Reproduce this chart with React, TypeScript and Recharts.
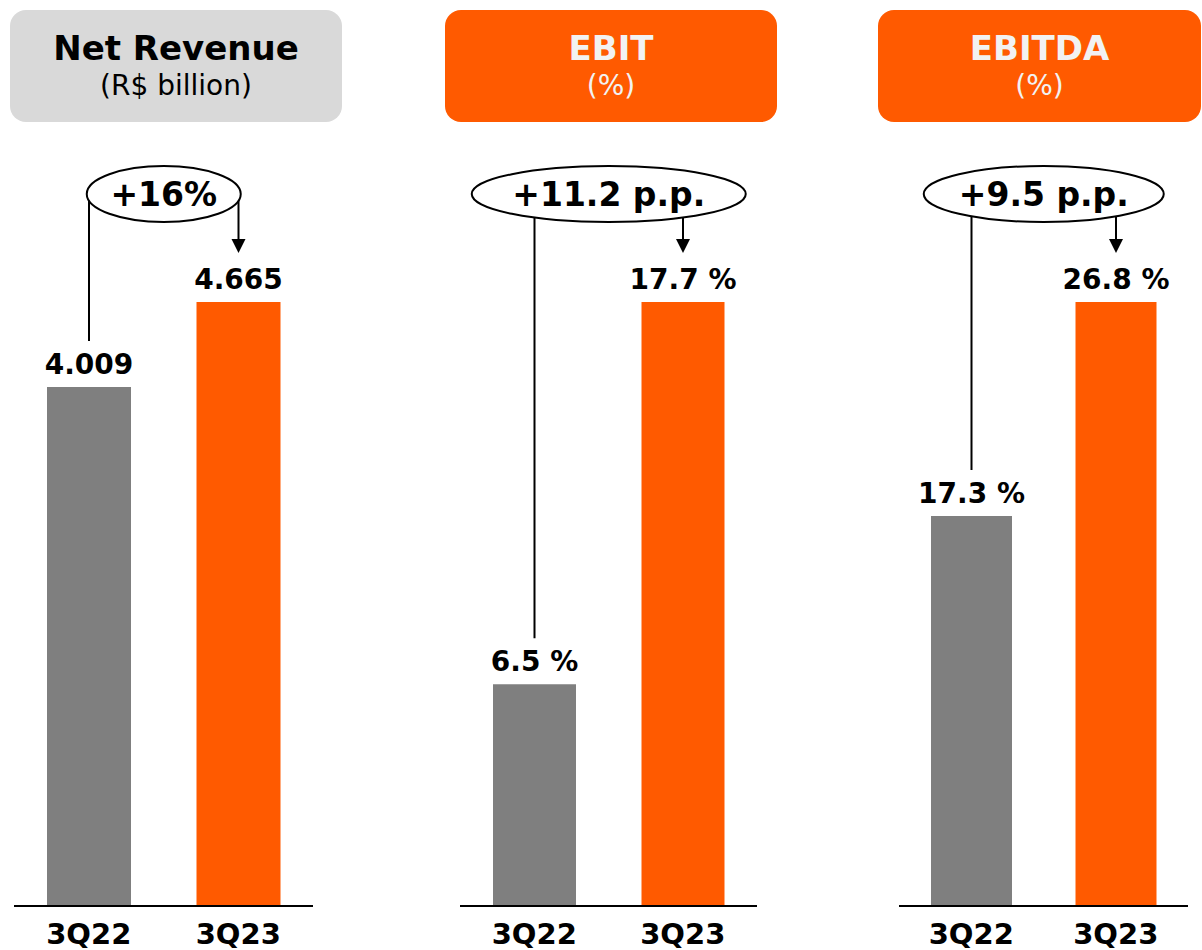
import React from 'react'
import { BarChart, Bar, XAxis, YAxis, Cell, LabelList } from 'recharts'

const CATEGORIES = ['3Q22', '3Q23']
const REVENUE = [4.009, 4.665]
const EBIT = [6.5, 17.7]
const EBITDA = [17.3, 26.8]
const REVENUE_LABELS = ['4.009', '4.665']
const EBIT_LABELS = ['6.5 %', '17.7 %']
const EBITDA_LABELS = ['17.3 %', '26.8 %']
const TITLES = ['Net Revenue', 'EBIT', 'EBITDA']
const SUBTITLES = ['(R$ billion)', '(%)', '(%)']
const DELTAS = ['+16%', '+11.2 p.p.', '+9.5 p.p.']

const GRAY = '#7f7f7f'
const ORANGE = '#ff5a00'
const HEADER_GRAY = '#d9d9d9'
const FONT = '"DejaVu Sans", Verdana, sans-serif'
const BAR_COLORS = [GRAY, ORANGE]

const CHART_H = 950
const PLOT_TOP = 302
const AXIS_H = 44
const ELLIPSE_CY = 194

type Panel = {
  values: number[]
  labels: string[]
  title: string
  subtitle: string
  delta: string
  plotLeft: number
  plotWidth: number
  barSize: number
  rx: number
  header: { left: number; width: number; bg: string; color: string }
}

const PANELS: Panel[] = [
  {
    values: REVENUE, labels: REVENUE_LABELS, title: TITLES[0], subtitle: SUBTITLES[0], delta: DELTAS[0],
    plotLeft: 14, plotWidth: 299, barSize: 84, rx: 77,
    header: { left: 10, width: 332, bg: HEADER_GRAY, color: '#000' },
  },
  {
    values: EBIT, labels: EBIT_LABELS, title: TITLES[1], subtitle: SUBTITLES[1], delta: DELTAS[1],
    plotLeft: 460, plotWidth: 297, barSize: 83, rx: 137,
    header: { left: 445, width: 332, bg: ORANGE, color: '#f2f2f2' },
  },
  {
    values: EBITDA, labels: EBITDA_LABELS, title: TITLES[2], subtitle: SUBTITLES[2], delta: DELTAS[2],
    plotLeft: 899, plotWidth: 289, barSize: 81, rx: 120,
    header: { left: 878, width: 323, bg: ORANGE, color: '#f2f2f2' },
  },
]

// labels double as the hook for the change callout: bar 0 gets the
// connector, bar 1 gets the arrow + ellipse (drawn last so it covers line ends)
function makeLabel(panel: Panel) {
  const step = panel.plotWidth / CATEGORIES.length
  return (props: any) => {
    const vb = props.viewBox ?? props
    const x = vb.x ?? props.x
    const y = vb.y ?? props.y
    const w = vb.width ?? props.width
    const cx = x + w / 2
    const text = (
      <text x={cx} y={y - 13} textAnchor="middle" fontFamily={FONT} fontWeight="bold" fontSize={28} fill="#000">
        {props.value}
      </text>
    )
    if (props.index === 0) {
      return (
        <g>
          <line x1={cx} y1={ELLIPSE_CY} x2={cx} y2={y - 46} stroke="#000" strokeWidth={2} />
          {text}
        </g>
      )
    }
    const tip = y - 49
    const ex = cx - step / 2
    return (
      <g>
        <line x1={cx} y1={ELLIPSE_CY} x2={cx} y2={tip - 12} stroke="#000" strokeWidth={2} />
        <path d={`M${cx - 7},${tip - 14} L${cx + 7},${tip - 14} L${cx},${tip} Z`} fill="#000" />
        <ellipse cx={ex} cy={ELLIPSE_CY} rx={panel.rx} ry={28} fill="#fff" stroke="#000" strokeWidth={2} />
        <text x={ex} y={ELLIPSE_CY + 12} textAnchor="middle" fontFamily={FONT} fontWeight="bold" fontSize={33} fill="#000">
          {panel.delta}
        </text>
        {text}
      </g>
    )
  }
}

function CategoryTick({ x, y, payload }: any) {
  return (
    <text x={x} y={y + 30} textAnchor="middle" fontFamily={FONT} fontWeight="bold" fontSize={29} fill="#000">
      {payload.value}
    </text>
  )
}

function PanelChart({ panel }: { panel: Panel }) {
  const data = CATEGORIES.map((c, i) => ({ name: c, value: panel.values[i], label: panel.labels[i] }))
  const max = Math.max(...panel.values)
  const padL = 10
  const padR = 10
  return (
    <>
      <div
        style={{
          position: 'absolute', left: panel.header.left, top: 10, width: panel.header.width, height: 112,
          background: panel.header.bg, borderRadius: 16, color: panel.header.color, textAlign: 'center',
          fontFamily: FONT,
        }}
      >
        <div style={{ fontWeight: 'bold', fontSize: 34, lineHeight: '40px', marginTop: 18 }}>{panel.title}</div>
        <div style={{ fontSize: 28, lineHeight: '34px', marginTop: 1 }}>{panel.subtitle}</div>
      </div>
      <div style={{ position: 'absolute', left: panel.plotLeft - padL, top: 0 }}>
        <BarChart
          width={panel.plotWidth + padL + padR}
          height={CHART_H}
          data={data}
          margin={{ top: PLOT_TOP, right: padR, bottom: 0, left: padL }}
          barSize={panel.barSize}
        >
          <XAxis
            dataKey="name"
            height={AXIS_H}
            axisLine={{ stroke: '#000', strokeWidth: 2 }}
            tickLine={false}
            tick={<CategoryTick />}
            interval={0}
          />
          <YAxis hide domain={[0, max]} />
          <Bar dataKey="value" isAnimationActive={false}>
            {data.map((d, i) => (
              <Cell key={d.name} fill={BAR_COLORS[i]} />
            ))}
            <LabelList dataKey="label" content={makeLabel(panel)} />
          </Bar>
        </BarChart>
      </div>
    </>
  )
}

export default function App() {
  return (
    <div style={{ position: 'absolute', left: 0, top: 0, width: 1202, height: 950, background: '#fff', overflow: 'hidden' }}>
      {PANELS.map(p => (
        <PanelChart key={p.title} panel={p} />
      ))}
    </div>
  )
}
